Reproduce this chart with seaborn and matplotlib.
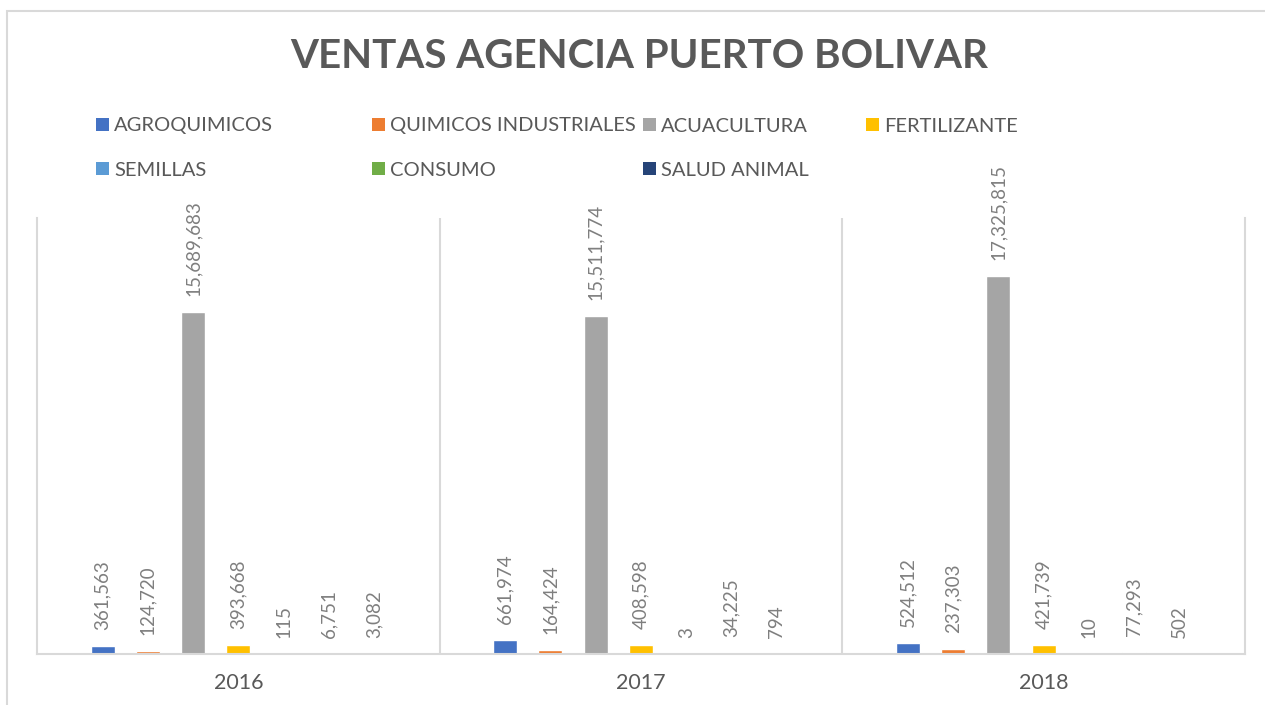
import pandas as pd
import numpy as np
import seaborn as sns
import matplotlib.pyplot as plt
from matplotlib.patches import Patch, Rectangle

# Data
years = ['2016', '2017', '2018']
categories = ['AGROQUIMICOS', 'QUIMICOS INDUSTRIALES', 'ACUACULTURA', 'FERTILIZANTE',
              'SEMILLAS', 'CONSUMO', 'SALUD ANIMAL']
agroquimicos = [361563, 661974, 524512]
quimicos_industriales = [124720, 164424, 237303]
acuacultura = [15689683, 15511774, 17325815]
fertilizante = [393668, 408598, 421739]
semillas = [115, 3, 10]
consumo = [6751, 34225, 77293]
salud_animal = [3082, 794, 502]
colors = ['#4472C4', '#ED7D31', '#A5A5A5', '#FFC000', '#5B9BD5', '#70AD47', '#264478']

series = [agroquimicos, quimicos_industriales, acuacultura, fertilizante,
          semillas, consumo, salud_animal]
rows = []
for cat, vals in zip(categories, series):
    for yr, v in zip(years, vals):
        rows.append({'Año': yr, 'Categoria': cat, 'Ventas': v})
df = pd.DataFrame(rows)

sns.set_theme(style='white')
plt.rcParams['font.family'] = ['Lato', 'DejaVu Sans']

fig = plt.figure(figsize=(12.65, 7.05), dpi=100)
ax = fig.add_axes([37 / 1265, 1 - 654 / 705, (1245 - 37) / 1265, (654 - 218) / 705])

sns.barplot(data=df, x='Año', y='Ventas', hue='Categoria', hue_order=categories,
            order=years, palette=colors, width=0.787, gap=0.47, errorbar=None,
            legend=False, ax=ax, saturation=1)

for cont in ax.containers:
    ax.bar_label(cont, labels=[f'{int(round(b.get_height())):,}' for b in cont],
                 rotation=90, padding=11.5, fontsize=13.5, color='#7F7F7F')

ax.set_ylim(0, 20000000)
ax.set_xlim(-0.5, 2.5)
ax.set_xlabel('')
ax.set_ylabel('')
ax.set_yticks([])
ax.tick_params(axis='x', length=0, pad=14, labelsize=15.5, labelcolor='#595959')
for x in [0.5, 1.5]:
    ax.axvline(x, color='#D9D9D9', lw=1.5, zorder=0)
for side in ['left', 'right', 'bottom']:
    ax.spines[side].set_color('#D9D9D9')
    ax.spines[side].set_linewidth(1.5)
ax.spines['top'].set_visible(False)

# Title
fig.text(0.5055, 1 - 57 / 705, 'VENTAS AGENCIA PUERTO BOLIVAR', ha='center', va='center',
         fontsize=29, fontweight='bold', color='#595959')

# Legend entries placed like the reference layout
leg_x = [96, 372, 643, 866, 96, 372, 643]
leg_y = [126, 126, 126, 126, 170, 170, 170]
for cat, col, lx, ly in zip(categories, colors, leg_x, leg_y):
    fig.legend(handles=[Patch(facecolor=col, edgecolor='none')], labels=[cat],
               loc='center left', bbox_to_anchor=(lx / 1265, 1 - ly / 705),
               frameon=False, fontsize=14.5, handlelength=0.65, handleheight=0.65,
               handletextpad=0.25, borderpad=0, borderaxespad=0, labelcolor='#595959')

# Light chart-area frame
fig.patches.append(Rectangle((7 / 1265, -0.2), 1.5, 1.2 - 11 / 705,
                             transform=fig.transFigure, fill=False,
                             edgecolor='#D9D9D9', lw=1.5, clip_on=False))

fig.savefig('out.png', dpi=100)
